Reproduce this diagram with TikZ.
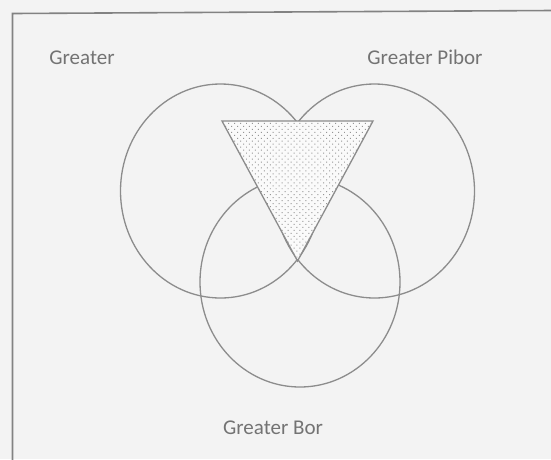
\documentclass[tikz,border=0pt]{standalone}
\usepackage{fontspec}
\setmainfont{Carlito}
\usetikzlibrary{patterns.meta}
\definecolor{bg}{RGB}{243,243,243}
\definecolor{linec}{RGB}{140,140,140}
\definecolor{textc}{RGB}{115,115,115}
\definecolor{framec}{RGB}{130,130,130}
\definecolor{dotc}{RGB}{150,150,150}
\begin{document}
\begin{tikzpicture}[x=1pt,y=-1pt,
  venn/.style={draw=linec, line width=1.3pt},
  lbl/.style={text=textc, font=\fontsize{21}{24}\selectfont, inner sep=0pt},
  framel/.style={draw=framec, line width=1.6pt}]
\fill[bg] (0,0) rectangle (551,459);
\useasboundingbox (0,0) rectangle (551,459);
% frame
\coordinate (fbl) at (12.5,460);
\coordinate (ftl) at (12.5,13.5);
\coordinate (ftr) at (552,10.5);
\draw[framel] (fbl) -- (ftl) -- (ftr);
% circles
\draw[venn] (220.5,191) ellipse [x radius=100pt, y radius=107pt];
\draw[venn] (374.5,191) ellipse [x radius=100pt, y radius=107pt];
\draw[venn] (300,282) ellipse [x radius=100pt, y radius=105pt];
% triangle
\coordinate (ta) at (222,121);
\coordinate (tb) at (373,121);
\coordinate (tc) at (297.5,261);
\fill[white!55!bg] (ta) -- (tb) -- (tc) -- cycle;
\fill[pattern={Dots[distance=4.2pt, radius=0.7pt, angle=45]}, pattern color=dotc] (ta) -- (tb) -- (tc) -- cycle;
\draw[venn, line join=miter] (ta) -- (tb) -- (tc) -- cycle;
% labels
\node[lbl] (la) at (82,58) {Greater};
\node[lbl] (lb) at (425,57) {Greater Pibor};
\node[lbl] (lc) at (273,428) {Greater Bor};
\end{tikzpicture}
\end{document}
